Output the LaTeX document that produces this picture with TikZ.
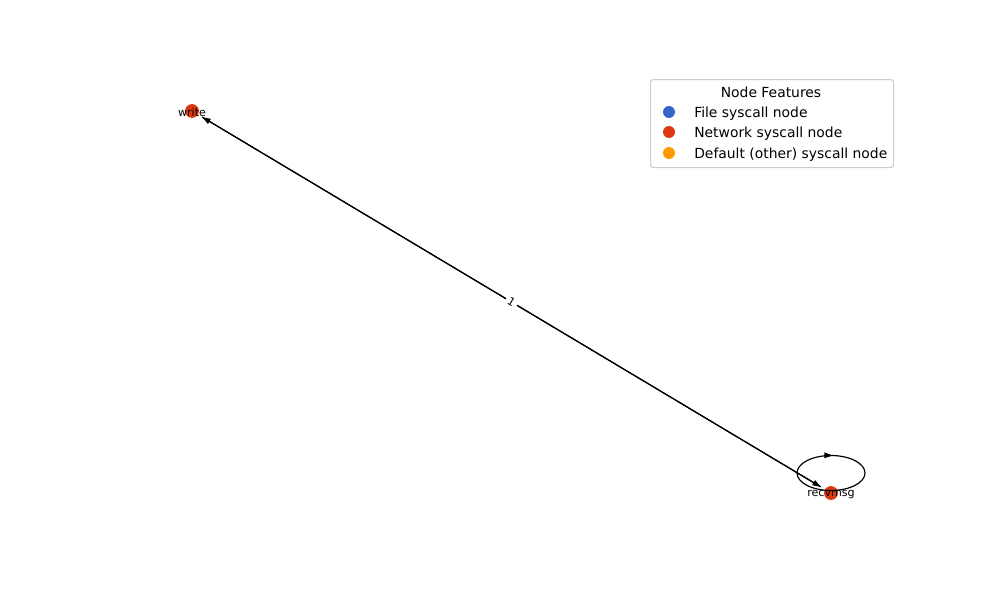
\documentclass[tikz,border=0pt]{standalone}
\usepackage{xcolor}
\usepackage{fontspec}
\setmainfont{DejaVu Sans}
\usepackage{tikz}
\usetikzlibrary{arrows.meta,decorations.markings}

\definecolor{filec}{HTML}{3366CC}
\definecolor{netc}{HTML}{DC3912}
\definecolor{defc}{HTML}{FF9900}

\begin{document}
\begin{tikzpicture}[
  x=0.72pt, y=-0.72pt, >={Triangle[length=6pt,width=4pt]},
  netnode/.style={circle, fill=netc, draw=none, minimum size=10pt, inner sep=0pt, outer sep=3.6pt},
  nlabel/.style={font=\fontsize{8}{9}\selectfont, yshift=-1pt},
  edge/.style={->, line width=0.85pt, color=black},
  elabel/.style={fill=white, inner sep=2pt, font=\fontsize{8}{9}\selectfont, sloped},
  legbox/.style={draw=black!20, fill=white, rounded corners=2pt, line width=0.8pt},
  legdot/.style={circle, minimum size=8.6pt, inner sep=0pt},
  legtext/.style={anchor=west, font=\fontsize{10}{12}\selectfont, inner sep=0pt, yshift=-1pt},
]
\useasboundingbox (0,0) rectangle (1000,600);

% nodes (pixel positions of the reference)
\node[netnode, label={[nlabel]center:write}] (wr) at (192,111) {};
\node[netnode, label={[nlabel]center:recvmsg}] (rv) at (831,493) {};

% edges in both directions, label 1
\draw[edge] (wr) -- (rv);
\draw[edge] (rv) -- node[elabel]{1} (wr);

% self loop on recvmsg
\coordinate (loopc) at (831,473);
\draw[line width=0.85pt, postaction={decorate}, decoration={markings,
  mark=at position 0.76 with {\arrow{>}}}]
  (loopc) ellipse [x radius=34, y radius=17.5];

% legend
\node[legbox, minimum width=243*0.72pt, minimum height=88*0.72pt, anchor=north west] (leg) at (650,79) {};
\node[font=\fontsize{10}{12}\selectfont] (legtitle) at (771,92) {Node Features};
\node[legdot, fill=filec] (d1) at (669,112) {};
\node[legdot, fill=netc] (d2) at (669,132) {};
\node[legdot, fill=defc] (d3) at (669,153) {};
\node[legtext] at (694,112) {File syscall node};
\node[legtext] at (694,132) {Network syscall node};
\node[legtext] at (694,153) {Default (other) syscall node};
\end{tikzpicture}
\end{document}
